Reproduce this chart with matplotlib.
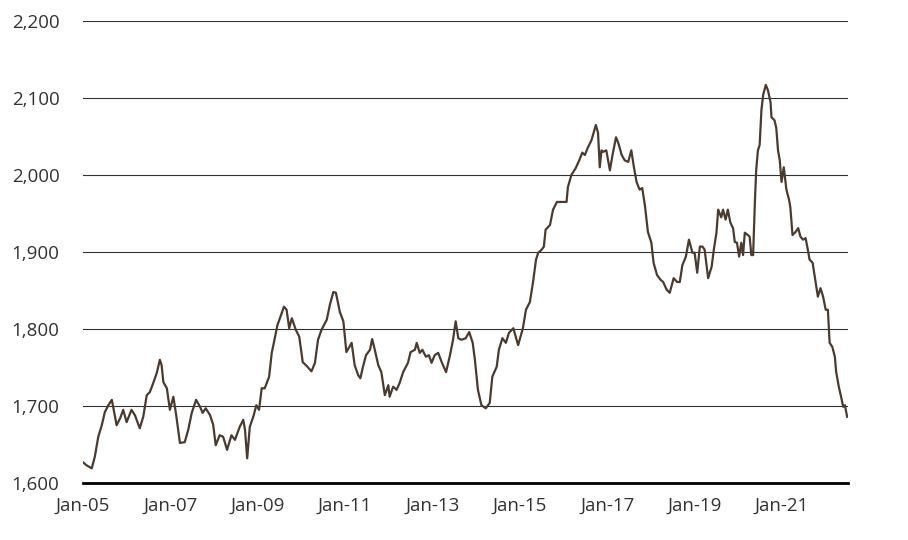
import datetime as dt
import matplotlib
matplotlib.use("Agg")
import matplotlib.pyplot as plt
import matplotlib.dates as mdates
from matplotlib.ticker import FuncFormatter

# decimal year of each reading
years = [
    2005.00, 2005.08, 2005.20, 2005.27, 2005.35, 2005.43, 2005.50, 2005.58, 2005.66, 2005.69,
    2005.77, 2005.85, 2005.92, 2006.00, 2006.11, 2006.19, 2006.30, 2006.38, 2006.46, 2006.53,
    2006.61, 2006.69, 2006.76, 2006.80, 2006.84, 2006.92, 2006.99, 2007.07, 2007.14, 2007.22,
    2007.33, 2007.41, 2007.49, 2007.59, 2007.68, 2007.74, 2007.81, 2007.91, 2007.98, 2008.04,
    2008.13, 2008.21, 2008.30, 2008.40, 2008.48, 2008.59, 2008.67, 2008.71, 2008.76, 2008.82,
    2008.90, 2008.97, 2009.03, 2009.09, 2009.16, 2009.26, 2009.32, 2009.39, 2009.45, 2009.52,
    2009.60, 2009.66, 2009.72, 2009.78, 2009.87, 2009.95, 2010.03, 2010.12, 2010.23, 2010.31,
    2010.38, 2010.46, 2010.58, 2010.65, 2010.73, 2010.79, 2010.88, 2010.96, 2011.03, 2011.15,
    2011.22, 2011.30, 2011.35, 2011.41, 2011.48, 2011.57, 2011.62, 2011.68, 2011.76, 2011.83,
    2011.91, 2011.99, 2012.02, 2012.10, 2012.18, 2012.25, 2012.33, 2012.44, 2012.50, 2012.60,
    2012.64, 2012.71, 2012.77, 2012.85, 2012.92, 2012.98, 2013.05, 2013.13, 2013.21, 2013.31,
    2013.40, 2013.47, 2013.53, 2013.59, 2013.66, 2013.76, 2013.84, 2013.92, 2013.97, 2014.04,
    2014.12, 2014.22, 2014.31, 2014.37, 2014.47, 2014.52, 2014.60, 2014.68, 2014.75, 2014.85,
    2014.96, 2015.07, 2015.14, 2015.23, 2015.30, 2015.37, 2015.42, 2015.50, 2015.55, 2015.59,
    2015.69, 2015.76, 2015.85, 2015.95, 2016.07, 2016.10, 2016.18, 2016.28, 2016.36, 2016.43,
    2016.49, 2016.56, 2016.64, 2016.74, 2016.79, 2016.83, 2016.87, 2016.90, 2016.98, 2017.06,
    2017.12, 2017.20, 2017.25, 2017.33, 2017.40, 2017.48, 2017.55, 2017.61, 2017.67, 2017.74,
    2017.80, 2017.86, 2017.93, 2018.01, 2018.06, 2018.14, 2018.22, 2018.28, 2018.36, 2018.43,
    2018.52, 2018.60, 2018.66, 2018.72, 2018.80, 2018.87, 2018.95, 2019.00, 2019.06, 2019.12,
    2019.18, 2019.23, 2019.31, 2019.39, 2019.44, 2019.50, 2019.54, 2019.61, 2019.65, 2019.71,
    2019.76, 2019.82, 2019.88, 2019.92, 2019.97, 2020.02, 2020.07, 2020.11, 2020.15, 2020.22,
    2020.26, 2020.30, 2020.34, 2020.38, 2020.41, 2020.45, 2020.49, 2020.53, 2020.57, 2020.63,
    2020.68, 2020.74, 2020.76, 2020.83, 2020.87, 2020.91, 2020.95, 2020.99, 2021.04, 2021.10,
    2021.16, 2021.19, 2021.24, 2021.31, 2021.37, 2021.42, 2021.48, 2021.54, 2021.60, 2021.63,
    2021.70, 2021.75, 2021.82, 2021.88, 2021.94, 2022.00, 2022.05, 2022.09, 2022.15, 2022.21,
    2022.24, 2022.30, 2022.36, 2022.40, 2022.44, 2022.49,
]

values = [
    1627, 1623, 1619, 1634, 1660, 1675, 1692, 1701, 1708, 1699,
    1675, 1684, 1695, 1679, 1695, 1688, 1671, 1686, 1714, 1718,
    1730, 1743, 1760, 1753, 1731, 1723, 1695, 1712, 1686, 1652,
    1653, 1669, 1691, 1708, 1699, 1691, 1697, 1688, 1676, 1649,
    1662, 1660, 1643, 1662, 1656, 1673, 1682, 1669, 1632, 1673,
    1686, 1701, 1695, 1723, 1723, 1738, 1769, 1788, 1805, 1816,
    1829, 1825, 1801, 1814, 1799, 1790, 1757, 1752, 1745, 1756,
    1786, 1799, 1812, 1831, 1848, 1847, 1822, 1810, 1770, 1782,
    1753, 1740, 1736, 1751, 1766, 1773, 1787, 1773, 1753, 1744,
    1714, 1727, 1712, 1725, 1721, 1730, 1744, 1756, 1770, 1773,
    1782, 1769, 1773, 1764, 1766, 1756, 1766, 1769, 1757, 1744,
    1766, 1786, 1810, 1788, 1786, 1788, 1796, 1782, 1760, 1721,
    1701, 1697, 1704, 1738, 1751, 1773, 1788, 1782, 1795, 1801,
    1779, 1801, 1825, 1835, 1860, 1890, 1899, 1903, 1907, 1929,
    1935, 1955, 1965, 1965, 1965, 1984, 2000, 2009, 2019, 2029,
    2026, 2036, 2045, 2065, 2055, 2010, 2032, 2030, 2032, 2006,
    2026, 2049, 2042, 2026, 2019, 2017, 2032, 2010, 1991, 1981,
    1983, 1961, 1926, 1912, 1886, 1870, 1864, 1861, 1851, 1847,
    1866, 1861, 1861, 1883, 1894, 1916, 1899, 1899, 1873, 1907,
    1907, 1903, 1866, 1881, 1903, 1925, 1955, 1945, 1955, 1942,
    1955, 1938, 1931, 1913, 1912, 1894, 1912, 1896, 1925, 1922,
    1920, 1896, 1896, 1964, 2006, 2032, 2039, 2084, 2104, 2117,
    2110, 2094, 2075, 2071, 2061, 2032, 2019, 1991, 2010, 1981,
    1968, 1958, 1922, 1926, 1931, 1920, 1916, 1918, 1900, 1890,
    1886, 1868, 1842, 1853, 1842, 1825, 1825, 1782, 1777, 1764,
    1744, 1725, 1710, 1699, 1701, 1686,
]

tick_years = [2005, 2007, 2009, 2011, 2013, 2015, 2017, 2019, 2021]
y_ticks = [1600, 1700, 1800, 1900, 2000, 2100, 2200]


def to_date(y):
    start = dt.datetime(int(y), 1, 1)
    return start + dt.timedelta(days=(y - int(y)) * 365.25)


dates = [to_date(y) for y in years]

plt.rcParams['font.family'] = ['Open Sans', 'DejaVu Sans']

fig = plt.figure(figsize=(9.08, 5.40), dpi=100)
ax = fig.add_axes([0.0914, 0.1056, 0.8425, 0.8555])

ax.plot(dates, values, color='#4a3b30', linewidth=1.6, zorder=3)

ax.set_ylim(1600, 2200)
ax.set_xlim(to_date(2005.0), to_date(2022.51))
ax.set_yticks(y_ticks)
ax.yaxis.set_major_formatter(FuncFormatter(lambda v, p: f'{int(v):,}'))
ax.set_xticks([dt.datetime(y, 1, 1) for y in tick_years])
ax.xaxis.set_major_formatter(mdates.DateFormatter('%b-%y'))

ax.grid(axis='y', color='#333333', linewidth=0.8)
ax.set_axisbelow(True)
for side in ['top', 'right', 'left']:
    ax.spines[side].set_visible(False)
ax.spines['bottom'].set_color('black')
ax.spines['bottom'].set_linewidth(2)
ax.spines['bottom'].set_zorder(4)

ax.tick_params(axis='both', length=0, labelsize=13.5, colors='#333333')
ax.tick_params(axis='y', pad=17)
ax.tick_params(axis='x', pad=10)

fig.savefig('out.png', dpi=100)
